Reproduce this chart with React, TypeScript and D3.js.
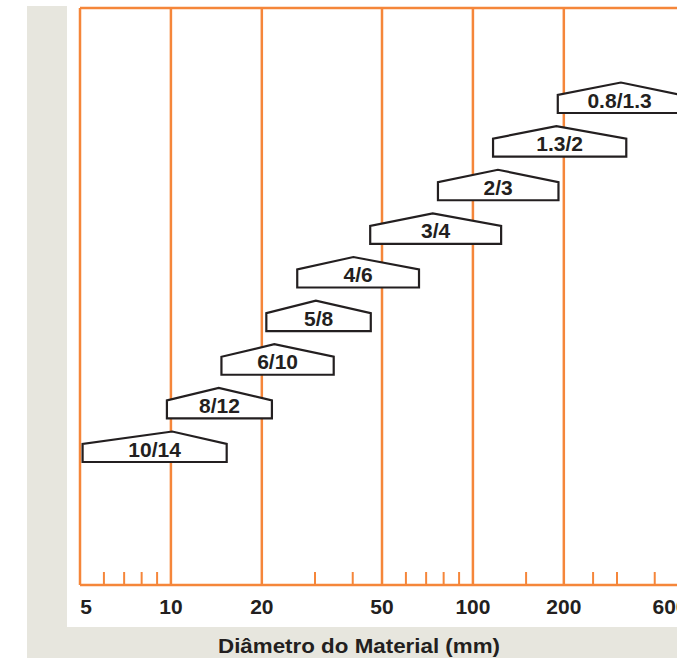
import React, { useEffect, useRef } from 'react';
import * as d3 from 'd3';

// nozzle sizes (label), and the diameter range each one covers (mm)
const labels = ['10/14', '8/12', '6/10', '5/8', '4/6', '3/4', '2/3', '1.3/2', '0.8/1.3'];
const rangeMin = [5.1, 9.7, 14.7, 20.7, 26.2, 45.7, 76.6, 116.6, 191];
const rangePeak = [10.1, 14.4, 22, 30.2, 40.2, 73.6, 121, 189, 309];
const rangeMax = [15.3, 21.6, 34.6, 45.9, 66.3, 124, 192, 322, 490];

const majorTicks = [5, 10, 20, 50, 100, 200, 600];
const minorTicks = [6, 7, 8, 9, 30, 40, 60, 70, 80, 90, 150, 250, 300, 400];
const axisTitle = 'Diâmetro do Material (mm)';

const App = () => {
  const ref = useRef<SVGSVGElement | null>(null);

  useEffect(() => {
    const W = 677;
    const H = 658;
    const orange = '#f5863a';
    const ink = '#231f20';
    const font = "'Liberation Sans', Arial, sans-serif";

    const svg = d3.select(ref.current);
    svg.selectAll('*').remove();

    // background panels
    svg.append('rect').attr('x', 27).attr('y', 6).attr('width', W - 27).attr('height', H - 6).attr('fill', '#e7e6de');
    svg.append('rect').attr('x', 67).attr('y', 0).attr('width', W - 67).attr('height', 627).attr('fill', '#ffffff');

    const top = 8;
    const bottom = 585;
    const x = d3.scaleLog().domain([5, 600]).range([80, 80 + 302 * Math.log10(120)]);

    const y = d3.scalePoint<string>().domain(labels).range([462, 113]);

    // frame
    svg.append('line').attr('x1', x(5)).attr('x2', W).attr('y1', top).attr('y2', top)
      .attr('stroke', orange).attr('stroke-width', 2.5);
    svg.append('line').attr('x1', x(5)).attr('x2', W).attr('y1', bottom).attr('y2', bottom)
      .attr('stroke', orange).attr('stroke-width', 2.5);

    // major grid lines
    svg.selectAll('line.major')
      .data(majorTicks)
      .enter()
      .append('line')
      .attr('class', 'major')
      .attr('x1', d => x(d)).attr('x2', d => x(d))
      .attr('y1', top).attr('y2', bottom)
      .attr('stroke', orange).attr('stroke-width', 2.5);

    // minor ticks
    svg.selectAll('line.minor')
      .data(minorTicks)
      .enter()
      .append('line')
      .attr('class', 'minor')
      .attr('x1', d => x(d)).attr('x2', d => x(d))
      .attr('y1', bottom - 13).attr('y2', bottom)
      .attr('stroke', orange).attr('stroke-width', 2);

    // tick labels
    svg.selectAll('text.tick')
      .data(majorTicks)
      .enter()
      .append('text')
      .attr('class', 'tick')
      .attr('x', d => Math.min(Math.max(x(d), x(5) + 6), W - 7))
      .attr('y', 614)
      .attr('text-anchor', 'middle')
      .attr('font-family', font)
      .attr('font-weight', 'bold')
      .attr('font-size', 21)
      .attr('fill', ink)
      .text(d => String(d));

    svg.append('text')
      .attr('x', 359)
      .attr('y', 653)
      .attr('text-anchor', 'middle')
      .attr('font-family', font)
      .attr('font-weight', 'bold')
      .attr('font-size', 21)
      .attr('textLength', 282)
      .attr('lengthAdjust', 'spacingAndGlyphs')
      .attr('fill', ink)
      .text(axisTitle);

    // house-shaped range markers
    const body = 18;
    const roof = 12.5;
    const g = svg.selectAll('g.range')
      .data(labels)
      .enter()
      .append('g')
      .attr('class', 'range');

    g.append('path')
      .attr('d', (d, i) => {
        const b = y(d) as number;
        const x0 = x(rangeMin[i]);
        const x1 = x(rangeMax[i]);
        const xp = x(rangePeak[i]);
        return `M${x0},${b}L${x0},${b - body}L${xp},${b - body - roof}L${x1},${b - body}L${x1},${b}Z`;
      })
      .attr('fill', '#ffffff')
      .attr('stroke', ink)
      .attr('stroke-width', 2.2)
      .attr('stroke-linejoin', 'miter');

    g.append('text')
      .attr('x', (d, i) => (x(rangeMin[i]) + x(rangeMax[i])) / 2)
      .attr('y', d => (y(d) as number) - 5.5)
      .attr('text-anchor', 'middle')
      .attr('font-family', font)
      .attr('font-weight', 'bold')
      .attr('font-size', 21)
      .attr('fill', ink)
      .text(d => d);

    return () => {
      svg.selectAll('*').remove();
    };
  }, []);

  return (
    <svg
      ref={ref}
      width={677}
      height={658}
      style={{ position: 'absolute', left: 0, top: 0, background: '#ffffff' }}
    />
  );
};

export default App;
